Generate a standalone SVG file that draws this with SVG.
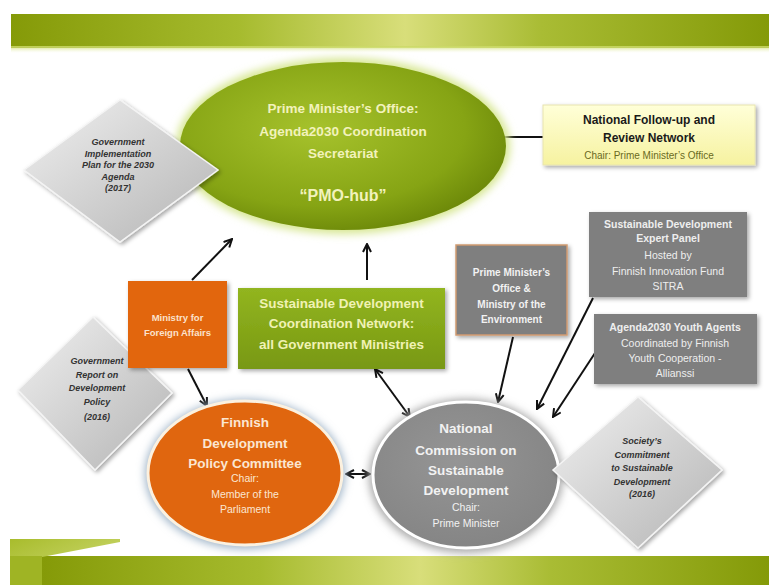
<svg xmlns="http://www.w3.org/2000/svg" width="769" height="585" viewBox="0 0 769 585">
<defs>
<linearGradient id="band" x1="0" y1="0" x2="1" y2="0">
<stop offset="0" stop-color="#859a08"/><stop offset="0.3" stop-color="#a6bb2e"/><stop offset="0.52" stop-color="#d8de7a"/><stop offset="0.7" stop-color="#a9bc34"/><stop offset="1" stop-color="#849a08"/>
</linearGradient>
<linearGradient id="fold" x1="0" y1="0" x2="1" y2="1">
<stop offset="0" stop-color="#a8bc2c"/><stop offset="1" stop-color="#d4df80"/>
</linearGradient>
<linearGradient id="glow" x1="0" y1="0" x2="0" y2="1">
<stop offset="0" stop-color="#c8d860" stop-opacity="0.9"/><stop offset="1" stop-color="#f4f8d8" stop-opacity="0"/>
</linearGradient>
<radialGradient id="pmo" cx="0.42" cy="0.4" r="0.65">
<stop offset="0" stop-color="#a6c22c"/><stop offset="0.7" stop-color="#86a414"/><stop offset="1" stop-color="#6a8608"/>
</radialGradient>
<linearGradient id="greenbox" x1="0" y1="0" x2="0" y2="1">
<stop offset="0" stop-color="#92b520"/><stop offset="1" stop-color="#789812"/>
</linearGradient>
<linearGradient id="yellow" x1="0" y1="0" x2="0" y2="1">
<stop offset="0" stop-color="#ffffd8"/><stop offset="1" stop-color="#f6f2a0"/>
</linearGradient>
<linearGradient id="dia" x1="0" y1="0" x2="1" y2="1">
<stop offset="0" stop-color="#f0f0f0"/><stop offset="1" stop-color="#b4b4b4"/>
</linearGradient>
<radialGradient id="gray" cx="0.45" cy="0.4" r="0.6">
<stop offset="0" stop-color="#959595"/><stop offset="1" stop-color="#858585"/>
</radialGradient>
<filter id="sh" x="-20%" y="-20%" width="140%" height="140%">
<feDropShadow dx="2" dy="2" stdDeviation="2" flood-color="#000" flood-opacity="0.35"/>
</filter>
<filter id="blur" x="-20%" y="-20%" width="140%" height="140%">
<feGaussianBlur stdDeviation="4"/>
</filter>
<marker id="ah" viewBox="0 0 10 10" refX="9" refY="5" markerWidth="5" markerHeight="5" orient="auto-start-reverse">
<path d="M1,1 L9,5 L1,9" fill="none" stroke="#111" stroke-width="2"/>
</marker>
<style>
.t{font-family:"Liberation Sans",Arial,sans-serif;text-anchor:middle}
.b{font-weight:bold}
.i{font-style:italic;font-weight:bold;fill:#333;font-size:9px}
.conn line{stroke:#111;stroke-width:2}
</style>
</defs>
<rect width="769" height="585" fill="#fff"/>
<g id="top-banner">
<rect x="11" y="14" width="758" height="34" fill="url(#band)"/>
<rect x="11" y="46" width="758" height="7" fill="url(#glow)"/>
</g>
<g id="bottom-banner">
<rect x="42" y="556" width="727" height="29" fill="url(#band)"/>
<polygon points="10,539 120,539 120,542 42,557 42,585 10,585" fill="url(#fold)"/>
<rect x="10" y="556" width="32" height="29" fill="#9fb424"/>
</g>
<g class="conn" id="connectors">
<line x1="500" y1="137" x2="543" y2="137"/>
<line x1="192" y1="280" x2="232" y2="239" marker-end="url(#ah)"/>
<line x1="367" y1="280" x2="367" y2="244" marker-end="url(#ah)"/>
<line x1="188" y1="369" x2="207" y2="406" marker-end="url(#ah)"/>
<line x1="375" y1="369" x2="410" y2="417" marker-start="url(#ah)" marker-end="url(#ah)"/>
<line x1="513" y1="337" x2="498" y2="402" marker-end="url(#ah)"/>
<line x1="593" y1="298" x2="537" y2="409" marker-end="url(#ah)"/>
<line x1="597" y1="350" x2="553" y2="417" marker-end="url(#ah)"/>
<line x1="346" y1="474" x2="370" y2="474" marker-start="url(#ah)" marker-end="url(#ah)"/>
</g>
<g id="pmo-hub">
<ellipse cx="343" cy="146" rx="167" ry="88" fill="#d6e690" filter="url(#blur)"/>
<ellipse cx="343" cy="146" rx="163" ry="84" fill="url(#pmo)"/>
<g class="t b" fill="#f2f2bc" font-size="13.5px">
<text x="343" y="113">Prime Minister’s Office:</text>
<text x="343" y="136">Agenda2030 Coordination</text>
<text x="343" y="158">Secretariat</text>
<text x="343" y="201" font-size="16px">“PMO-hub”</text>
</g>
</g>
<g id="gov-plan">
<polygon points="120,100 218,170 120,242 24,170" fill="url(#dia)" stroke="#f4f4f4" stroke-width="1.5" filter="url(#sh)"/>
<g class="t i">
<text x="118" y="145">Government</text>
<text x="118" y="156.5">Implementation</text>
<text x="118" y="168">Plan for the 2030</text>
<text x="118" y="179.5">Agenda</text>
<text x="118" y="191">(2017)</text>
</g>
</g>
<g id="follow-up">
<rect x="543" y="105" width="212" height="60" fill="url(#yellow)" stroke="#e8e4b0" stroke-width="1" filter="url(#sh)"/>
<g class="t">
<text x="649" y="124" class="b" font-size="12px" fill="#1a1a1a">National Follow-up and</text>
<text x="649" y="142" class="b" font-size="12px" fill="#1a1a1a">Review Network</text>
<text x="649" y="159" font-size="10px" fill="#6a6a1e">Chair: Prime Minister’s Office</text>
</g>
</g>
<g id="gov-report">
<polygon points="93,317 172,393 95,470 18,390" fill="url(#dia)" stroke="#f4f4f4" stroke-width="1.5" filter="url(#sh)"/>
<g class="t i">
<text x="97" y="364">Government</text>
<text x="97" y="377.5">Report on</text>
<text x="97" y="391">Development</text>
<text x="97" y="405">Policy</text>
<text x="97" y="420">(2016)</text>
</g>
</g>
<g id="mfa">
<rect x="128" y="281" width="99" height="87" fill="#e2660f" filter="url(#sh)"/>
<g class="t b" fill="#fbe2cc" font-size="9.5px">
<text x="177.5" y="321">Ministry for</text>
<text x="177.5" y="336">Foreign Affairs</text>
</g>
</g>
<g id="coord-network">
<rect x="238" y="288" width="207" height="81" fill="url(#greenbox)" filter="url(#sh)"/>
<g class="t b" fill="#f0f2b4" font-size="13.5px">
<text x="341.5" y="308">Sustainable Development</text>
<text x="341.5" y="328">Coordination Network:</text>
<text x="341.5" y="349">all Government Ministries</text>
</g>
</g>
<g id="pmo-env">
<rect x="456" y="245" width="111" height="90" fill="#7f7f7f" stroke="#d09a70" stroke-width="1.5" filter="url(#sh)"/>
<g class="t b" fill="#f2f2f2" font-size="10px">
<text x="511.5" y="276">Prime Minister’s</text>
<text x="511.5" y="292">Office &amp;</text>
<text x="511.5" y="308">Ministry of the</text>
<text x="511.5" y="323">Environment</text>
</g>
</g>
<g id="expert-panel">
<rect x="589" y="212" width="158" height="85" fill="#7f7f7f" filter="url(#sh)"/>
<g class="t" fill="#eeeeee" font-size="10.5px">
<text x="668" y="228" class="b">Sustainable Development</text>
<text x="668" y="242" class="b">Expert Panel</text>
<text x="668" y="259">Hosted by</text>
<text x="668" y="275">Finnish Innovation Fund</text>
<text x="668" y="290">SITRA</text>
</g>
</g>
<g id="youth-agents">
<rect x="594" y="314" width="163" height="70" fill="#7f7f7f" filter="url(#sh)"/>
<g class="t" fill="#eeeeee" font-size="10.5px">
<text x="675" y="331" class="b">Agenda2030 Youth Agents</text>
<text x="675" y="347">Coordinated by Finnish</text>
<text x="675" y="362">Youth Cooperation -</text>
<text x="675" y="377">Allianssi</text>
</g>
</g>
<g id="dev-policy-committee">
<ellipse cx="245" cy="474" rx="100" ry="75" fill="#9fb4c8" filter="url(#blur)"/>
<ellipse cx="245" cy="473" rx="97" ry="72" fill="#e0660f" stroke="#fbf1e0" stroke-width="3"/>
<g class="t" fill="#fbe6d2">
<text x="245" y="427" class="b" font-size="13.5px">Finnish</text>
<text x="245" y="448" class="b" font-size="13.5px">Development</text>
<text x="245" y="468" class="b" font-size="13.5px">Policy Committee</text>
<text x="245" y="482" font-size="10.5px">Chair:</text>
<text x="245" y="498" font-size="10.5px">Member of the</text>
<text x="245" y="513" font-size="10.5px">Parliament</text>
</g>
</g>
<g id="national-commission">
<ellipse cx="466" cy="476" rx="97" ry="77" fill="#a8a8a8" filter="url(#blur)"/>
<ellipse cx="466" cy="475" rx="93" ry="73" fill="url(#gray)" stroke="#ffffff" stroke-width="3"/>
<g class="t" fill="#f2f2f2">
<text x="466" y="433" class="b" font-size="13.5px">National</text>
<text x="466" y="455" class="b" font-size="13.5px">Commission on</text>
<text x="466" y="475" class="b" font-size="13.5px">Sustainable</text>
<text x="466" y="495" class="b" font-size="13.5px">Development</text>
<text x="466" y="511" font-size="10.5px">Chair:</text>
<text x="466" y="527" font-size="10.5px">Prime Minister</text>
</g>
</g>
<g id="society-commitment">
<polygon points="638,397 722,470 638,548 553,470" fill="url(#dia)" stroke="#f4f4f4" stroke-width="1.5" filter="url(#sh)"/>
<g class="t i">
<text x="642" y="444">Society’s</text>
<text x="642" y="458">Commitment</text>
<text x="642" y="471">to Sustainable</text>
<text x="642" y="485">Development</text>
<text x="642" y="497">(2016)</text>
</g>
</g>
</svg>
